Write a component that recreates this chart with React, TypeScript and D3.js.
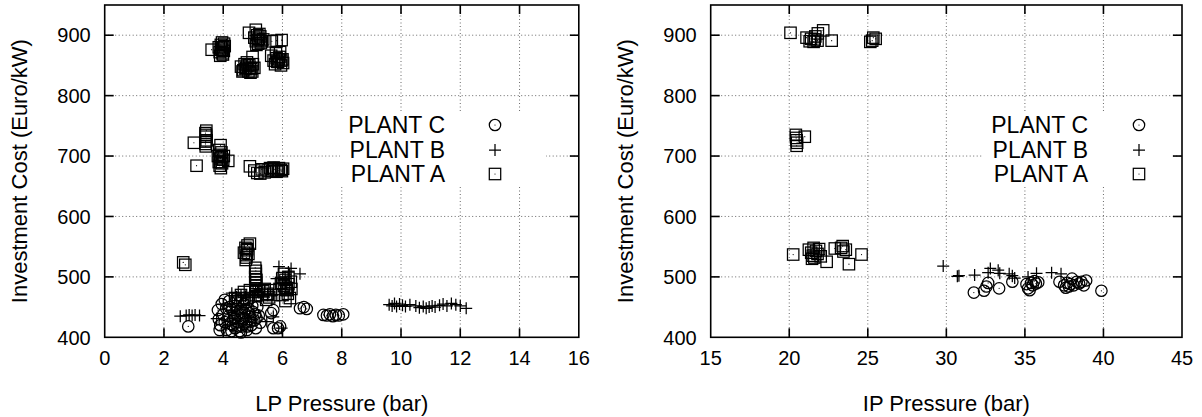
import React from "react";
import * as d3 from "d3";

type Pt = [number, number];

// ---- LP pressure panel ----
const lpPlantC: Pt[] = [
  [2.82, 418],
  [3.82, 445], [3.85, 430], [3.9, 420], [3.95, 455], [4.0, 438], [4.05, 425], [4.1, 448], [4.12, 412],
  [4.18, 435], [4.2, 460], [4.25, 422], [4.3, 445], [4.35, 430], [4.4, 415], [4.42, 452], [4.48, 438],
  [4.5, 425], [4.55, 410], [4.58, 446], [4.62, 432], [4.65, 418], [4.7, 455], [4.72, 440], [4.78, 426],
  [4.8, 412], [4.85, 448], [4.9, 434], [4.95, 420], [5.0, 442], [5.05, 428], [5.1, 415], [5.15, 450],
  [5.2, 436], [5.25, 424], [4.05, 462], [4.45, 465], [4.85, 462], [4.6, 408], [3.88, 412], [4.28, 410],
  [4.15, 428], [4.38, 440], [4.52, 418], [4.68, 430], [4.75, 446], [4.92, 426], [5.08, 438], [4.33, 420],
  [4.6, 440], [4.82, 418], [4.22, 450], [4.98, 452], [4.4, 432], [4.7, 422], [4.88, 440], [5.12, 432],
  [5.69, 445], [5.62, 440], [5.69, 415], [5.85, 415], [5.92, 418],
  [6.59, 448], [6.72, 450], [6.82, 447],
  [7.38, 437], [7.5, 436], [7.6, 438], [7.7, 435], [7.8, 437], [7.9, 436], [8.05, 438],
];

const lpPlantB: Pt[] = [
  [2.55, 435], [2.75, 436], [2.85, 437], [2.95, 436], [3.05, 437], [3.2, 436], [3.78, 431],
  [4.29, 473], [4.45, 467], [4.6, 470], [4.75, 468], [4.9, 472], [5.05, 470], [5.2, 474], [5.35, 468],
  [5.5, 472], [5.65, 470], [5.88, 517], [6.29, 514], [6.59, 505], [5.8, 497], [6.09, 500], [6.0, 490],
  [6.2, 508], [5.47, 426], [5.69, 434], [5.97, 415], [4.0, 455], [4.3, 445],
  [9.6, 454], [9.7, 452], [9.78, 456], [9.85, 451], [9.95, 455], [10.05, 453], [10.15, 451], [10.3, 454],
  [10.5, 452], [10.62, 449], [10.75, 451], [10.85, 448], [10.95, 450], [11.05, 452], [11.15, 450],
  [11.3, 453], [11.42, 455], [11.55, 452], [11.7, 456], [11.85, 454], [12.0, 452], [12.2, 448],
];

const lpPlantA: Pt[] = [
  [3.61, 876],
  [3.85, 880], [3.88, 872], [3.92, 884], [3.95, 876], [3.98, 870], [4.0, 880], [4.02, 874], [3.9, 866],
  [4.05, 882], [3.96, 888], [3.93, 878], [3.99, 868], [4.03, 886],
  [4.87, 904], [5.1, 909],
  [5.05, 896], [5.1, 890], [5.15, 900], [5.18, 886], [5.2, 894], [5.25, 898], [5.3, 890], [5.12, 884],
  [5.22, 902], [5.35, 893], [5.17, 892], [5.27, 887],
  [5.64, 890], [5.97, 892], [5.8, 891], [4.99, 864],
  [4.6, 848], [4.68, 842], [4.72, 852], [4.78, 846], [4.85, 840], [4.88, 850], [4.95, 844], [5.0, 852],
  [5.05, 846], [4.8, 855], [4.92, 838], [4.65, 840], [4.75, 844], [4.9, 846], [4.82, 850], [4.98, 840],
  [5.62, 866], [5.7, 858], [5.75, 852], [5.8, 862], [5.85, 856], [5.9, 864], [5.95, 850], [6.0, 860],
  [5.78, 870], [5.92, 872], [6.02, 854], [5.82, 856], [5.88, 860], [5.96, 858],
  [3.01, 722],
  [3.4, 738], [3.42, 732], [3.44, 726], [3.4, 720], [3.43, 742], [3.41, 716], [3.42, 735], [3.41, 724],
  [3.91, 718], [3.1, 684],
  [3.82, 700], [3.85, 690], [3.88, 684], [3.9, 696], [3.94, 706], [3.96, 688], [4.0, 694], [3.92, 680],
  [3.86, 710], [4.02, 700], [3.9, 690], [3.95, 698], [3.88, 702],
  [4.17, 692], [4.9, 683],
  [5.05, 676], [5.15, 672], [5.3, 678], [5.4, 673], [5.5, 676], [5.58, 680], [5.65, 675], [5.72, 678],
  [5.8, 674], [5.88, 680], [5.95, 677], [6.02, 679], [5.25, 671], [5.7, 681], [5.85, 676], [5.98, 675],
  [2.65, 524], [2.72, 520],
  [4.7, 540], [4.75, 548], [4.78, 532], [4.8, 544], [4.82, 552], [4.76, 528], [4.85, 538], [4.9, 555],
  [4.79, 536], [4.81, 546],
  [5.08, 515], [5.1, 505], [5.12, 495], [5.1, 485], [5.12, 475], [5.1, 468], [5.08, 500], [5.1, 510],
  [5.11, 490], [5.09, 480],
  [4.5, 460], [4.6, 470], [4.7, 475], [4.8, 465], [4.9, 478], [5.2, 478], [5.3, 470], [5.4, 480],
  [5.5, 472], [5.6, 478], [5.7, 470], [5.45, 462], [4.4, 465], [4.65, 462], [5.35, 476], [5.55, 466],
  [5.9, 480], [5.95, 490], [6.0, 470], [6.05, 485], [6.1, 495], [6.15, 478], [6.2, 488], [6.25, 465],
  [6.3, 480], [6.1, 460], [6.2, 500], [6.28, 492], [6.05, 505], [6.12, 482], [6.18, 472], [6.0, 498],
];

// ---- IP pressure panel ----
const ipPlantC: Pt[] = [
  [31.75, 474], [32.4, 477], [32.55, 484], [32.66, 490], [33.36, 481], [34.2, 492],
  [35.1, 488], [35.2, 481], [35.3, 478], [35.4, 490], [35.5, 486], [35.6, 493], [35.7, 489], [35.85, 491],
  [37.2, 492], [37.5, 486], [37.6, 482], [37.7, 490], [37.8, 484], [37.9, 488], [38.0, 497], [38.1, 486],
  [38.3, 492], [38.45, 489], [38.6, 492], [38.75, 486], [38.9, 494], [39.87, 477],
];

const ipPlantB: Pt[] = [
  [29.8, 518], [30.7, 501], [30.8, 502], [31.8, 503], [32.66, 507], [32.8, 514], [33.3, 511],
  [33.4, 506], [34.0, 505], [34.2, 502], [34.35, 498], [35.2, 500], [35.74, 506], [36.7, 507], [37.3, 505],
];

const ipPlantA: Pt[] = [
  [20.08, 904], [21.1, 896], [21.39, 894], [21.62, 893], [21.66, 898], [21.82, 903], [21.55, 889],
  [21.3, 890], [21.8, 891], [22.16, 908], [22.7, 891], [25.16, 889], [25.5, 894], [25.28, 891], [25.35, 896],
  [20.42, 735], [20.47, 726], [20.47, 717], [20.44, 730], [20.5, 722], [20.99, 732],
  [20.25, 537], [21.25, 545], [21.4, 540], [21.5, 535], [21.55, 548], [21.6, 532], [21.7, 543],
  [21.8, 538], [21.9, 546], [22.0, 534], [21.45, 530], [22.38, 525], [22.9, 547], [23.4, 551],
  [23.45, 542], [23.3, 548], [23.8, 521], [24.6, 537], [23.6, 545],
];

const costTicks = [400, 500, 600, 700, 800, 900];
const lpTicks = [0, 2, 4, 6, 8, 10, 12, 14, 16];
const ipTicks = [15, 20, 25, 30, 35, 40, 45];
const plantNames = ["PLANT C", "PLANT B", "PLANT A"];

type Shape = "circle" | "plus" | "square";
const shapes: Shape[] = ["circle", "plus", "square"];

const FONT = "'Liberation Sans', Arial, Helvetica, sans-serif";
const MARK_W = 1.25;

function Marker({ x, y, shape }: { x: number; y: number; shape: Shape }) {
  if (shape === "circle") {
    return (
      <g>
        <circle cx={x} cy={y} r={5.7} fill="none" stroke="#000" strokeWidth={MARK_W} />
        <circle cx={x} cy={y} r={0.6} fill="#000" />
      </g>
    );
  }
  if (shape === "plus") {
    return (
      <path
        d={`M${x - 6},${y}H${x + 6}M${x},${y - 6}V${y + 6}`}
        stroke="#000"
        strokeWidth={MARK_W}
        fill="none"
      />
    );
  }
  return (
    <g>
      <rect x={x - 5.7} y={y - 5.7} width={11.4} height={11.4} fill="none" stroke="#000" strokeWidth={MARK_W} />
      <circle cx={x} cy={y} r={0.6} fill="#000" />
    </g>
  );
}

type PanelProps = {
  left: number;
  right: number;
  xDomain: [number, number];
  xTicks: number[];
  xLabel: string;
  series: Pt[][];
  keyBox: [number, number];
  keyTextRight: number;
  keySymbolX: number;
};

const TOP = 5;
const BOTTOM = 337.3;

function Panel({ left, right, xDomain, xTicks, xLabel, series, keyBox, keyTextRight, keySymbolX }: PanelProps) {
  const x = d3.scaleLinear().domain(xDomain).range([left, right]);
  const y = d3.scaleLinear().domain([400, 950]).range([BOTTOM, TOP]);
  const tickLen = 9;
  const keyRows = [125, 150, 174];
  return (
    <g>
      {/* grid */}
      <g stroke="#444" strokeWidth={0.8} strokeDasharray="1,2.5">
        {xTicks.slice(1, -1).map((t) => (
          <line key={"gx" + t} x1={x(t)} x2={x(t)} y1={TOP} y2={BOTTOM} />
        ))}
        {costTicks.slice(1).map((t) => (
          <line key={"gy" + t} x1={left} x2={right} y1={y(t)} y2={y(t)} />
        ))}
      </g>
      {/* key background */}
      <rect x={keyBox[0]} y={113} width={keyBox[1] - keyBox[0]} height={74} fill="#fff" />
      {/* points: first series drawn first */}
      {series.map((pts, si) => (
        <g key={"s" + si}>
          {pts.map((p, i) => (
            <Marker key={i} x={x(p[0])} y={y(p[1])} shape={shapes[si]} />
          ))}
        </g>
      ))}
      {/* key */}
      {plantNames.map((n, i) => (
        <g key={n}>
          <text
            x={keyTextRight}
            y={keyRows[i]}
            dy="0.36em"
            textAnchor="end"
            fontFamily={FONT}
            fontSize={23}
            fill="#000"
          >
            {n}
          </text>
          <Marker x={keySymbolX} y={keyRows[i]} shape={shapes[i]} />
        </g>
      ))}
      {/* frame and ticks */}
      <rect x={left} y={TOP} width={right - left} height={BOTTOM - TOP} fill="none" stroke="#000" strokeWidth={1.6} />
      <g stroke="#000" strokeWidth={1.6}>
        {xTicks.slice(1, -1).map((t) => (
          <g key={"tx" + t}>
            <line x1={x(t)} x2={x(t)} y1={BOTTOM} y2={BOTTOM - tickLen} />
            <line x1={x(t)} x2={x(t)} y1={TOP} y2={TOP + tickLen} />
          </g>
        ))}
        {costTicks.slice(1).map((t) => (
          <g key={"ty" + t}>
            <line x1={left} x2={left + tickLen} y1={y(t)} y2={y(t)} />
            <line x1={right} x2={right - tickLen} y1={y(t)} y2={y(t)} />
          </g>
        ))}
      </g>
      {/* tick labels */}
      <g fontFamily={FONT} fontSize={20} fill="#000">
        {xTicks.map((t) => (
          <text key={"lx" + t} x={x(t)} y={365} textAnchor="middle">
            {t}
          </text>
        ))}
        {costTicks.map((t) => (
          <text key={"ly" + t} x={left - 14} y={y(t)} dy="0.36em" textAnchor="end">
            {t}
          </text>
        ))}
      </g>
      {/* axis titles */}
      <text
        x={(left + right) / 2}
        y={411}
        textAnchor="middle"
        fontFamily={FONT}
        fontSize={22}
        fill="#000"
      >
        {xLabel}
      </text>
      <text
        transform={`translate(${left - 86},${(TOP + BOTTOM) / 2}) rotate(-90)`}
        textAnchor="middle"
        dy="0.36em"
        fontFamily={FONT}
        fontSize={22}
        fill="#000"
      >
        Investment Cost (Euro/kW)
      </text>
    </g>
  );
}

export default function App() {
  return (
    <svg
      width={1202}
      height={417}
      style={{ position: "absolute", left: 0, top: 0, background: "#fff" }}
    >
      <rect width={1202} height={417} fill="#fff" />
      <Panel
        left={104.7}
        right={578.8}
        xDomain={[0, 16]}
        xTicks={lpTicks}
        xLabel="LP Pressure (bar)"
        series={[lpPlantC, lpPlantB, lpPlantA]}
        keyBox={[340, 546]}
        keyTextRight={445}
        keySymbolX={495}
      />
      <Panel
        left={710.7}
        right={1182}
        xDomain={[15, 45]}
        xTicks={ipTicks}
        xLabel="IP Pressure (bar)"
        series={[ipPlantC, ipPlantB, ipPlantA]}
        keyBox={[983, 1172]}
        keyTextRight={1088}
        keySymbolX={1139}
      />
    </svg>
  );
}
